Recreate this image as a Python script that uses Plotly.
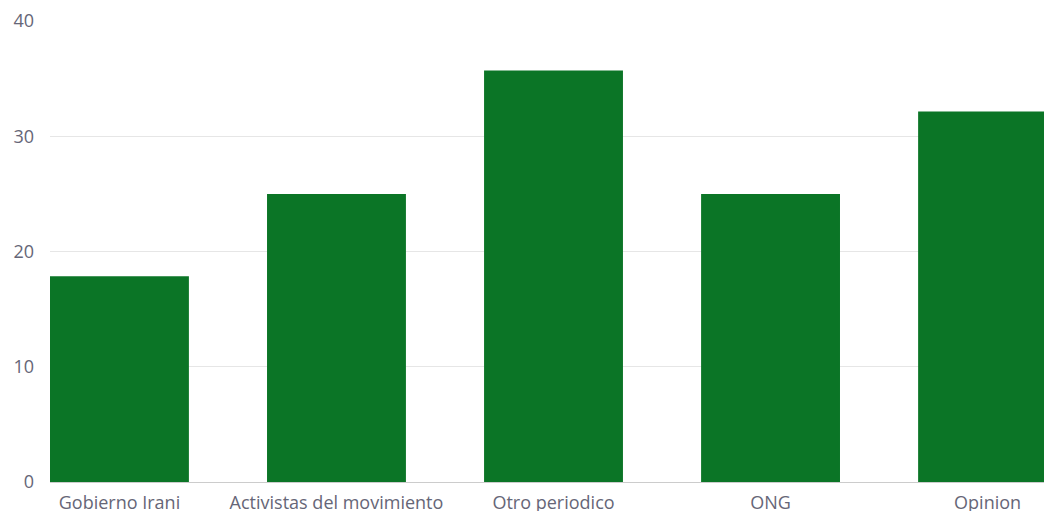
import plotly.graph_objects as go

categories = ["Gobierno Irani", "Activistas del movimiento", "Otro periodico", "ONG", "Opinion"]
values = [17.86, 25.0, 35.71, 25.0, 32.14]
y_ticks = [0, 10, 20, 30, 40]

fig = go.Figure(go.Bar(
    x=list(range(len(categories))),
    y=values,
    marker=dict(color="#0b7526", line=dict(width=0)),
    width=0.64,
))

fig.update_layout(
    width=1044, height=511,
    margin=dict(l=50, r=0, t=21, b=29, autoexpand=False),
    paper_bgcolor="white", plot_bgcolor="white",
    font=dict(family="Open Sans", size=18, color="#666677"),
    showlegend=False,
    bargap=0.36,
)
fig.update_xaxes(
    tickmode="array", tickvals=list(range(len(categories))), ticktext=categories,
    range=[-0.32, 4.26], showgrid=False, zeroline=False, automargin=False,
    showline=True, linecolor="#cccccc", linewidth=1, ticks="", ticklen=0,
    tickfont=dict(size=18), ticklabelstandoff=4,
)
fig.update_yaxes(
    range=[0, 40], tickvals=y_ticks, showgrid=True, gridcolor="#e6e6e6", gridwidth=1,
    zeroline=False, showline=False, ticks="", tickfont=dict(size=18), automargin=False,
    ticklabelstandoff=15,
)
fig.write_html("out.html", config={"displayModeBar": False})

with open("out.html", "r", encoding="utf-8") as f:
    html = f.read()
html = html.replace("<head>", "<head><style>html,body{margin:0;padding:0;overflow:hidden;}</style>", 1)
with open("out.html", "w", encoding="utf-8") as f:
    f.write(html)
